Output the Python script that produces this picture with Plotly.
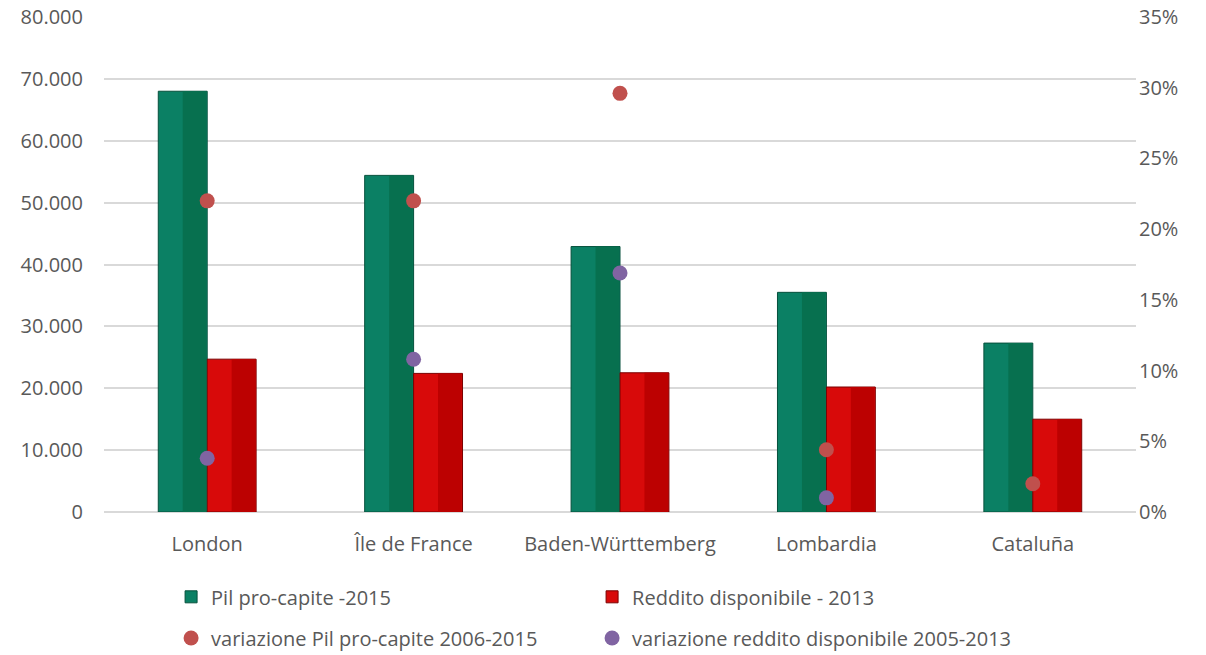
import plotly.graph_objects as go

categories = ["London", "Île de France", "Baden-Württemberg", "Lombardia", "Cataluña"]
pil_2015 = [68000, 54400, 42900, 35500, 27300]
reddito_2013 = [24700, 22400, 22500, 20200, 15000]
var_pil = [0.220, 0.220, 0.296, 0.044, 0.020]
var_reddito = [0.038, 0.108, 0.169, 0.010, None]

names = ["Pil pro-capite -2015", "Reddito disponibile - 2013",
         "variazione Pil pro-capite 2006-2015", "variazione reddito disponibile 2005-2013"]

W = 0.237  # bar width (category units)
font = dict(family="Open Sans, Liberation Sans, sans-serif", size=20, color="#595959")
pad = 1.002  # tiny headroom so the top gridline is drawn

fig = go.Figure()
# main bars
fig.add_trace(go.Bar(x=categories, y=pil_2015, name=names[0], offset=-W, width=W,
                     marker=dict(color="#0B8064", line=dict(color="#06503C", width=1)),
                     legend="legend"))
fig.add_trace(go.Bar(x=categories, y=reddito_2013, name=names[1], offset=0, width=W,
                     marker=dict(color="#D80A0A", line=dict(color="#7A0000", width=1)),
                     legend="legend"))
# shading of right halves (bevel look)
fig.add_trace(go.Bar(x=categories, y=pil_2015, offset=-W / 2, width=W / 2 - 0.004,
                     marker=dict(color="#07704F", line=dict(width=0)), showlegend=False,
                     hoverinfo="skip"))
fig.add_trace(go.Bar(x=categories, y=reddito_2013, offset=W / 2, width=W / 2 - 0.004,
                     marker=dict(color="#BC0101", line=dict(width=0)), showlegend=False,
                     hoverinfo="skip"))
# dots
fig.add_trace(go.Scatter(x=categories, y=var_pil, name=names[2], mode="markers", yaxis="y2",
                         marker=dict(color="#C0504D", size=15), legend="legend2"))
fig.add_trace(go.Scatter(x=categories, y=var_reddito, name=names[3], mode="markers", yaxis="y2",
                         marker=dict(color="#8064A2", size=15), legend="legend2"))

legend_common = dict(orientation="h", x=0.065, xanchor="left", yanchor="middle",
                     entrywidth=376, entrywidthmode="pixels", font=font,
                     traceorder="normal", itemwidth=30, bgcolor="rgba(0,0,0,0)")

fig.update_layout(
    width=1206, height=655,
    margin=dict(l=104, r=70, t=16, b=143, autoexpand=False),
    paper_bgcolor="white", plot_bgcolor="white",
    barmode="overlay",
    separators=",.",
    font=font,
    xaxis=dict(showgrid=False, showline=False, ticks="", tickfont=font, automargin=False,
               ticklabelstandoff=18),
    yaxis=dict(range=[0, 80000 * pad], dtick=10000, tickformat=",d", showgrid=True,
               gridcolor="#D9D9D9", gridwidth=2, zeroline=True, zerolinecolor="#D9D9D9",
               zerolinewidth=2, ticks="", tickfont=font, ticklabelstandoff=20, automargin=False,
               ticklabeloverflow="allow"),
    yaxis2=dict(range=[0, 0.35 * pad], dtick=0.05, tickformat=".0%", overlaying="y", side="right",
                showgrid=False, zeroline=False, ticks="", tickfont=font, ticklabelstandoff=2,
                automargin=False, ticklabeloverflow="allow"),
    legend=dict(legend_common, y=-0.171),
    legend2=dict(legend_common, y=-0.254),
    showlegend=True,
)

fig.write_html("out.html", config={"displayModeBar": False},
               post_script="document.body.style.margin='0';document.body.style.overflow='hidden';")
